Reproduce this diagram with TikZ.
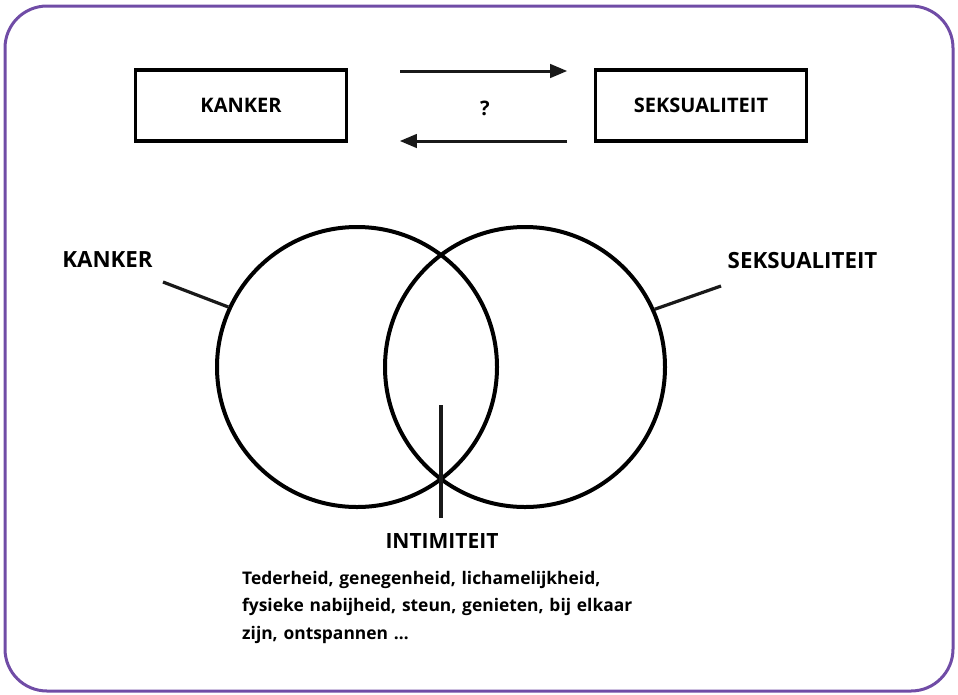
\documentclass[tikz,border=0pt]{standalone}
\usepackage{fontspec}
\setmainfont{Open Sans}
\usetikzlibrary{arrows}
\definecolor{kader}{RGB}{112,76,166}
\tikzstyle{blok}=[draw, line width=3.5pt, minimum width=211pt, minimum height=71pt,
  inner sep=0pt, font=\fontsize{20}{24}\selectfont\bfseries]
\tikzstyle{cirkel}=[draw, circle, line width=4pt, minimum size=280pt, inner sep=0pt]
\tikzstyle{lijn}=[draw, line width=3.2pt, color=black!90]
\tikzstyle{pijl}=[draw, line width=3pt, color=black!90, -triangle 45]
\tikzstyle{label}=[font=\fontsize{22.3}{27}\selectfont\bfseries, inner sep=0pt]

\begin{document}
\begin{tikzpicture}[x=1pt,y=-1pt]
  \useasboundingbox (0,0) rectangle (958,694);
  \path [draw, color=kader, line width=3pt, rounded corners=42pt] (5,6) rectangle (953,691);

  \path (241,105.5) node (k) [blok] {KANKER};
  \path (701,105.5) node (s) [blok] {SEKSUALITEIT};
  \path (485,108) node (q) [font=\fontsize{20}{24}\selectfont\bfseries] {?};

  \coordinate (a1) at (400,71);
  \coordinate (a2) at (567,71);
  \coordinate (b1) at (567,141);
  \coordinate (b2) at (400,141);
  \path [pijl] (a1) -- (a2);
  \path [pijl] (b1) -- (b2);

  \path (357,367) node (lc) [cirkel] {};
  \path (525,367) node (rc) [cirkel] {};

  \path (107.5,260) node (lk) [label] {KANKER};
  \path (802.5,260.5) node (ls) [label] {SEKSUALITEIT};
  \coordinate (lkend) at (163,282);
  \coordinate (lsend) at (721,286);
  \path [lijn] (lkend) -- (lc.155);
  \path [lijn] (lsend) -- (rc.24);

  \coordinate (itop) at (441,405);
  \path (442,541) node (it) [label, font=\fontsize{21}{25}\selectfont\bfseries] {INTIMITEIT};
  \coordinate (ibot) at (441,518);
  \path [lijn] (itop) -- (ibot);

  \path (242,571) node (tekst) [anchor=north west, inner sep=0pt, text width=420pt,
    align=left, font=\fontsize{17.4}{27.5}\selectfont\bfseries]
    {Tederheid, genegenheid, lichamelijkheid,\\ fysieke nabijheid, steun, genieten, bij elkaar\\ zijn, ontspannen \dots};
\end{tikzpicture}
\end{document}
